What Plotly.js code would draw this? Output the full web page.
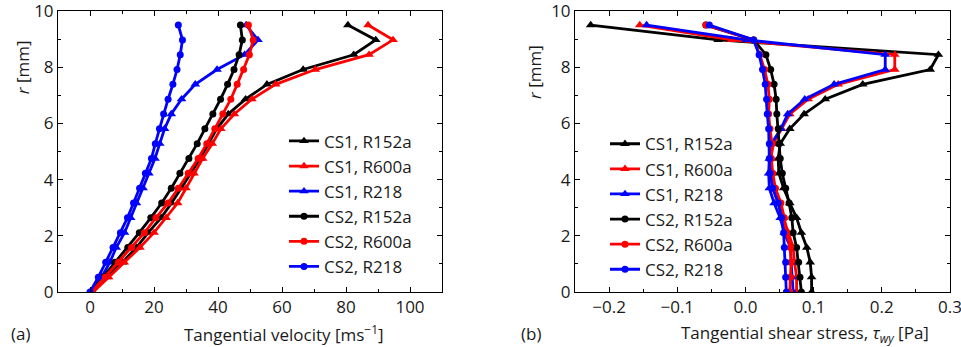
<!DOCTYPE html>
<html>
<head>
<meta charset="utf-8">
<script src="https://cdn.plot.ly/plotly-3.0.1.min.js"></script>
<style>html,body{margin:0;padding:0;background:#fff;}#chart{width:961px;height:347px;}</style>
</head>
<body>
<div id="chart"></div>
<script>
// radial positions [mm]
const rPos = [0, 0.528, 1.056, 1.583, 2.111, 2.639, 3.167, 3.694, 4.222, 4.75, 5.278, 5.806, 6.333, 6.861, 7.389, 7.917, 8.444, 8.972, 9.5];

const seriesNames = ["CS1, R152a", "CS1, R600a", "CS1, R218", "CS2, R152a", "CS2, R600a", "CS2, R218"];

// (a) tangential velocity [m/s]
const velCS1_R152a = [0.8, 5.2, 10.1, 14.5, 18.2, 22.2, 25.5, 28.6, 31.5, 34.4, 37.0, 39.6, 43.2, 48.6, 55.3, 66.6, 82.4, 89.3, 80.6];
const velCS1_R600a = [1.0, 5.8, 10.7, 15.6, 20.0, 23.8, 27.4, 30.0, 32.5, 35.2, 38.2, 40.9, 45.1, 50.6, 58.0, 70.4, 87.2, 94.7, 86.9];
const velCS1_R218  = [0.4, 3.6, 6.2, 8.2, 10.8, 12.7, 14.5, 16.6, 18.4, 20.3, 21.8, 23.3, 25.4, 28.6, 32.9, 39.7, 48.3, 52.5, 48.8];
const velCS2_R152a = [0.3, 4.1, 7.8, 11.8, 15.4, 19.0, 22.4, 25.4, 28.1, 30.9, 33.5, 35.9, 38.4, 40.8, 43.0, 45.0, 46.6, 47.6, 47.0];
const velCS2_R600a = [0.5, 4.7, 8.9, 13.0, 17.0, 20.6, 24.4, 27.6, 30.7, 33.8, 36.5, 39.0, 41.5, 44.0, 46.0, 48.0, 49.8, 51.0, 49.5];
const velCS2_R218  = [0.0, 2.6, 4.9, 7.2, 9.5, 11.7, 13.6, 15.5, 17.3, 19.2, 20.4, 21.7, 23.0, 24.4, 25.9, 27.2, 28.2, 28.9, 27.6];

// (b) tangential shear stress [Pa]
const tauCS1_R152a = [0.097, 0.097, 0.095, 0.090, 0.082, 0.075, 0.065, 0.056, 0.049, 0.048, 0.051, 0.065, 0.086, 0.117, 0.172, 0.271, 0.283, -0.040, -0.227];
const tauCS1_R600a = [0.075, 0.075, 0.072, 0.070, 0.063, 0.056, 0.048, 0.040, 0.037, 0.037, 0.041, 0.053, 0.065, 0.092, 0.136, 0.219, 0.219, -0.020, -0.155];
const tauCS1_R218  = [0.070, 0.068, 0.067, 0.066, 0.057, 0.051, 0.042, 0.035, 0.034, 0.035, 0.038, 0.052, 0.062, 0.087, 0.130, 0.205, 0.205, 0.002, -0.145];
const tauCS2_R152a = [0.082, 0.080, 0.078, 0.075, 0.070, 0.068, 0.064, 0.059, 0.054, 0.051, 0.049, 0.048, 0.046, 0.045, 0.042, 0.037, 0.030, 0.012, -0.058];
const tauCS2_R600a = [0.065, 0.066, 0.067, 0.066, 0.060, 0.057, 0.052, 0.044, 0.040, 0.038, 0.039, 0.036, 0.034, 0.035, 0.033, 0.028, 0.021, 0.012, -0.058];
const tauCS2_R218  = [0.060, 0.059, 0.059, 0.057, 0.056, 0.053, 0.048, 0.040, 0.036, 0.035, 0.035, 0.034, 0.032, 0.031, 0.029, 0.025, 0.020, 0.012, -0.053];

const colors = ["#000000", "#ff0000", "#0000ff", "#000000", "#ff0000", "#0000ff"];
const symbols = ["triangle-up", "triangle-up", "triangle-up", "circle", "circle", "circle"];
const velData = [velCS1_R152a, velCS1_R600a, velCS1_R218, velCS2_R152a, velCS2_R600a, velCS2_R218];
const tauData = [tauCS1_R152a, tauCS1_R600a, tauCS1_R218, tauCS2_R152a, tauCS2_R600a, tauCS2_R218];

const FONT = "Open Sans, Noto Sans, sans-serif";
const TXT = "#1a1a1a";
const FS = 17;
const traces = [];
function mk(v, i, xa, ya, lg, grp) {
  return {
    x: v, y: rPos, xaxis: xa, yaxis: ya, type: "scatter", mode: "lines+markers",
    name: seriesNames[i], legend: lg, legendgroup: grp + i,
    line: {color: colors[i], width: 2.8},
    marker: {symbol: symbols[i], size: symbols[i] === "circle" ? 7 : 8.5, color: colors[i]}
  };
}
velData.forEach((v, i) => traces.push(mk(v, i, "x", "y", "legend", "a")));
tauData.forEach((v, i) => traces.push(mk(v, i, "x2", "y2", "legend2", "b")));

const axCommon = {
  showline: true, linecolor: "#000", linewidth: 1, mirror: "ticks",
  ticks: "inside", ticklen: 5, tickcolor: "#000", tickwidth: 1,
  showgrid: false, zeroline: false, ticklabeloverflow: "allow",
  tickfont: {family: FONT, size: FS, color: TXT}
};
const tf = {family: FONT, size: FS, color: TXT};
const TITLE_Y = -0.146;

const layout = {
  width: 961, height: 347,
  margin: {l: 0, r: 0, t: 11, b: 55},
  paper_bgcolor: "#fff", plot_bgcolor: "#fff",
  font: tf,
  xaxis: Object.assign({}, axCommon, {
    domain: [58/961, 442/961], range: [-10, 110], dtick: 20, anchor: "y",
    minor: {dtick: 10, ticks: "inside", ticklen: 3, tickcolor: "#000"}
  }),
  yaxis: Object.assign({}, axCommon, {
    domain: [0, 1], range: [0, 10], dtick: 2, anchor: "x",
    minor: {dtick: 1, ticks: "inside", ticklen: 3, tickcolor: "#000"}
  }),
  xaxis2: Object.assign({}, axCommon, {
    domain: [575/961, 950/961], range: [-0.25, 0.3], dtick: 0.1, tick0: 0, tickformat: ".1f", anchor: "y2",
    minor: {dtick: 0.05, ticks: "inside", ticklen: 3, tickcolor: "#000"}
  }),
  yaxis2: Object.assign({}, axCommon, {
    domain: [0, 1], range: [0, 10], dtick: 2, anchor: "x2",
    minor: {dtick: 1, ticks: "inside", ticklen: 3, tickcolor: "#000"}
  }),
  legend: {
    x: 284/961, y: 0.6, xanchor: "left", yanchor: "top",
    bgcolor: "rgba(0,0,0,0)", borderwidth: 0, tracegroupgap: 0, font: tf
  },
  legend2: {
    x: 605/961, y: 0.59, xanchor: "left", yanchor: "top",
    bgcolor: "rgba(0,0,0,0)", borderwidth: 0, tracegroupgap: 0, font: tf
  },
  showlegend: true,
  annotations: [
    {text: "(a)", xref: "paper", yref: "paper", x: 9/961, y: TITLE_Y, xanchor: "left", yanchor: "middle", showarrow: false, font: tf},
    {text: "(b)", xref: "paper", yref: "paper", x: 519/961, y: TITLE_Y, xanchor: "left", yanchor: "middle", showarrow: false, font: tf},
    {text: "Tangential velocity [ms<sup>\u22121</sup>]", xref: "paper", yref: "paper", x: 284/961, y: TITLE_Y, xanchor: "center", yanchor: "middle", showarrow: false, font: tf},
    {text: "Tangential shear stress, <i>\u03c4</i><sub><i>wy</i></sub> [Pa]", xref: "paper", yref: "paper", x: 805/961, y: TITLE_Y, xanchor: "center", yanchor: "middle", showarrow: false, font: tf},
    {text: "<i>r</i> [mm]", xref: "paper", yref: "paper", x: 22/961, y: 0.80, xanchor: "center", yanchor: "middle", textangle: -90, showarrow: false, font: tf},
    {text: "<i>r</i> [mm]", xref: "paper", yref: "paper", x: 535/961, y: 0.783, xanchor: "center", yanchor: "middle", textangle: -90, showarrow: false, font: tf}
  ]
};

Plotly.newPlot("chart", traces, layout, {displayModeBar: false, staticPlot: true});
</script>
</body>
</html>
